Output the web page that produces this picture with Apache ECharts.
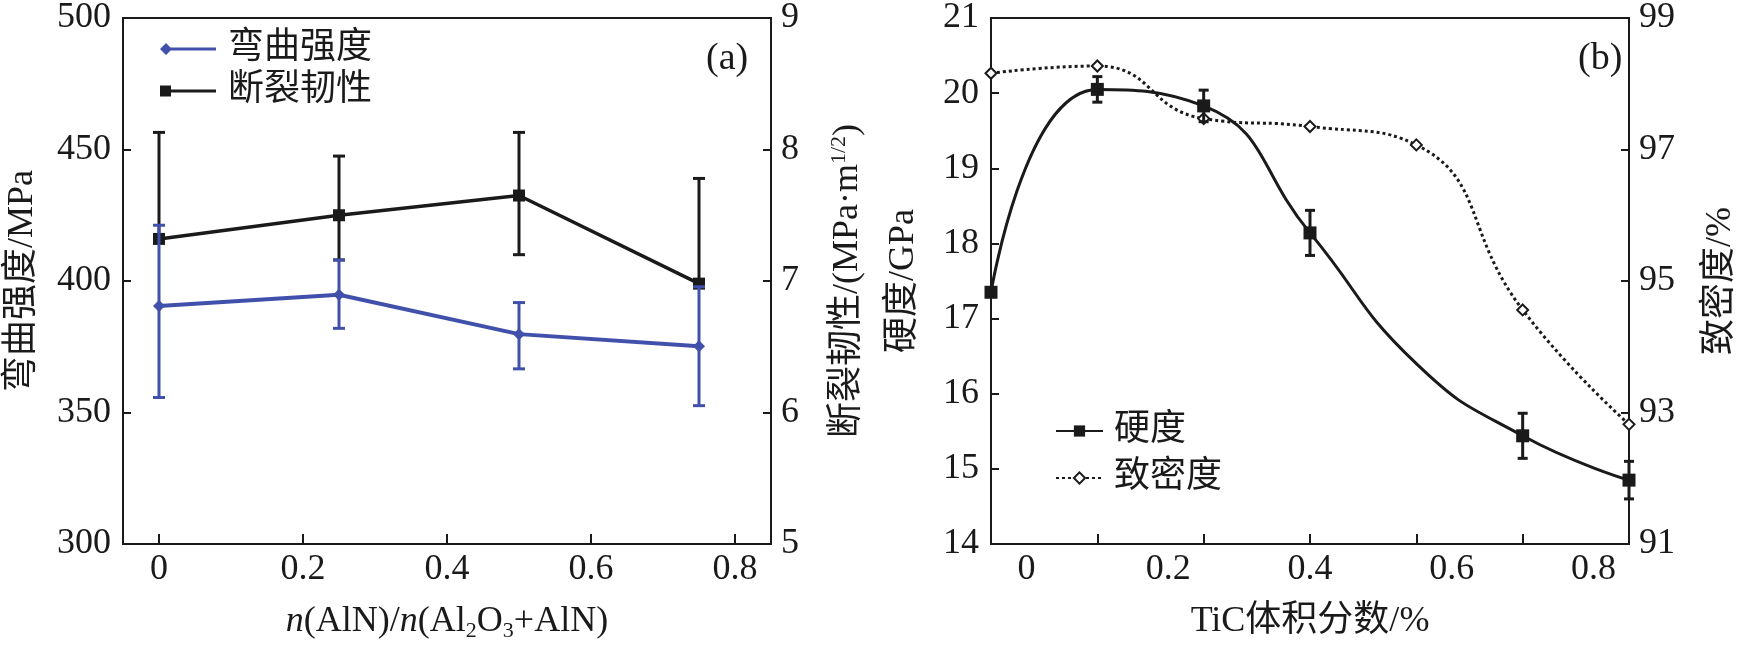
<!DOCTYPE html>
<html>
<head>
<meta charset="utf-8">
<script src="https://cdn.jsdelivr.net/npm/echarts@6/dist/echarts.min.js"></script>
<style>
html,body{margin:0;padding:0;background:#fff;}
#c{width:1742px;height:654px;}
</style>
</head>
<body>
<div id="c"></div>
<script>
// ---------- Data: panel (a) ----------
const xA = [0, 0.25, 0.5, 0.75];
const strength = [390.5, 394.8, 379.8, 375.2];
const strengthLow = [355.7, 382.0, 366.6, 352.6];
const strengthHigh = [421.2, 408.0, 391.8, 397.8];
const toughness = [7.32, 7.50, 7.65, 6.98];
const toughnessLow = [7.32, 7.16, 7.20, 6.98];   // visible lower ends (rest hidden behind blue bars)
const toughnessHigh = [8.13, 7.95, 8.13, 7.78];
const xTickLabels = [0, 0.2, 0.4, 0.6, 0.8];
const legendA = ['弯曲强度', '断裂韧性'];

// ---------- Data: panel (b) ----------
const xB = [-0.05, 0.10, 0.25, 0.40, 0.55, 0.70, 0.85];
const hardness = [17.35, 20.05, 19.83, 18.14, 16.40, 15.44, 14.85];
const hardnessMarked = [true, true, true, true, false, true, true];
const hardnessErr = [0, 0.17, 0.21, 0.30, 0, 0.30, 0.25];
const density = [98.16, 98.27, 97.47, 97.35, 97.07, 94.56, 92.82];
const xTicksB = [0.10, 0.25, 0.40, 0.55, 0.70];
const legendB = ['硬度', '致密度'];

const FONT = '"Liberation Serif", "Times New Roman", "Noto Sans CJK SC", serif';
const INK = '#1a1a1a';
const BLUE = '#4150aa';
const FS = 36;

function errRender(capHalf, color, width) {
  return function (params, api) {
    const x = api.value(0), lo = api.value(1), hi = api.value(2);
    if (hi === lo) return null;
    const a = api.coord([x, hi]), b = api.coord([x, lo]);
    const st = { stroke: color, lineWidth: width };
    return {
      type: 'group',
      children: [
        { type: 'line', shape: { x1: a[0], y1: a[1], x2: b[0], y2: b[1] }, style: st },
        { type: 'line', shape: { x1: a[0] - capHalf, y1: a[1], x2: a[0] + capHalf, y2: a[1] }, style: st },
        { type: 'line', shape: { x1: b[0] - capHalf, y1: b[1], x2: b[0] + capHalf, y2: b[1] }, style: st }
      ]
    };
  };
}

const labelStyle = { fontFamily: FONT, fontSize: FS, color: INK };
const axisLineStyle = { show: true, onZero: false, lineStyle: { color: INK, width: 2 } };
const fmt = v => String(Math.round(v * 10) / 10);

function xAxisDef(gridIndex, tickVals, nameText, rich) {
  return {
    type: 'value', gridIndex: gridIndex, min: -0.05, max: 0.85,
    axisLine: axisLineStyle,
    axisTick: { show: true, inside: true, length: 10, customValues: tickVals, lineStyle: { color: INK, width: 2 } },
    axisLabel: Object.assign({ customValues: xTickLabels, formatter: fmt, margin: 8 }, labelStyle),
    splitLine: { show: false },
    name: nameText, nameLocation: 'middle', nameGap: 58,
    nameTextStyle: Object.assign({ lineHeight: 40, rich: rich }, labelStyle)
  };
}
function yAxisDef(gridIndex, pos, min, max, interval, nameText, gap, rich) {
  return {
    type: 'value', gridIndex: gridIndex, position: pos, min: min, max: max, interval: interval,
    axisLine: axisLineStyle,
    axisTick: { show: true, inside: true, length: 8, lineStyle: { color: INK, width: 2 } },
    axisLabel: Object.assign({ margin: pos === 'left' ? 12 : 10 }, labelStyle),
    splitLine: { show: false },
    name: nameText, nameLocation: 'middle', nameRotate: 90, nameGap: gap,
    nameTextStyle: Object.assign({ lineHeight: 40, rich: rich || {} }, labelStyle)
  };
}

const subRich = {
  i: { fontFamily: FONT, fontSize: FS, fontStyle: 'italic', color: INK, lineHeight: 40 },
  s: { fontFamily: FONT, fontSize: 22, color: INK, lineHeight: 22, verticalAlign: 'bottom' },
  t: { fontFamily: FONT, fontSize: FS, color: INK, lineHeight: 40 }
};
const supRich = {
  p: { fontFamily: FONT, fontSize: 22, color: INK, lineHeight: 22, verticalAlign: 'top' },
  t: { fontFamily: FONT, fontSize: FS, color: INK, lineHeight: 40 }
};

const iconDiamondLine = 'path://M0,6 L6,0 L12,6 L6,12 Z M6,4.5 L56,4.5 L56,7.5 L6,7.5 Z';
const iconSquareLine = 'path://M0,0.5 L11,0.5 L11,11.5 L0,11.5 Z M5,4.5 L56,4.5 L56,7.5 L5,7.5 Z M0,0 L0.01,0 L0.01,12 L0,12 Z';

const option = {
  backgroundColor: '#fff',
  animation: false,
  title: [
    { text: '(a)', left: 706, top: 40, padding: 0, textStyle: { fontFamily: FONT, fontSize: 38, fontWeight: 'normal', color: INK } },
    { text: '(b)', left: 1578, top: 40, padding: 0, textStyle: { fontFamily: FONT, fontSize: 38, fontWeight: 'normal', color: INK } }
  ],
  grid: [
    { left: 123, right: 1742 - 771, top: 15, bottom: 654 - 544, show: true, borderColor: INK, borderWidth: 2 },
    { left: 991, right: 1742 - 1640, top: 15, bottom: 654 - 544, show: true, borderColor: INK, borderWidth: 2 }
  ],
  legend: [
    {
      left: 155, top: 26, orient: 'vertical', itemGap: 6, itemWidth: 56, itemHeight: 12,
      data: [
        { name: legendA[0], icon: iconDiamondLine },
        { name: legendA[1], icon: iconSquareLine }
      ],
      textStyle: { fontFamily: FONT, fontSize: FS, color: INK, lineHeight: 36, padding: [0, 0, 0, 7] }
    },
    {
      left: 1050, top: 408, orient: 'vertical', itemGap: 11, itemWidth: 47, itemHeight: 14,
      data: legendB,
      textStyle: { fontFamily: FONT, fontSize: FS, color: INK, lineHeight: 36, padding: [0, 0, 0, 6] }
    }
  ],
  xAxis: [
    xAxisDef(0, xTickLabels, '{i|n}{t|(AlN)/}{i|n}{t|(Al}{s|2}{t|O}{s|3}{t|+AlN)}', subRich),
    xAxisDef(1, xTicksB, 'TiC体积分数/%', {})
  ],
  yAxis: [
    yAxisDef(0, 'left', 300, 500, 50, '弯曲强度/MPa', 80),
    yAxisDef(0, 'right', 5, 9, 1, '{t|断裂韧性/(MPa·m}{p|1/2}{t|)}', 57, supRich),
    yAxisDef(1, 'left', 14, 21, 1, '硬度/GPa', 67),
    yAxisDef(1, 'right', 91, 99, 2, '致密度/%', 72)
  ],
  series: [
    {
      type: 'custom', xAxisIndex: 0, yAxisIndex: 1, z: 2, silent: true,
      renderItem: errRender(6, INK, 3),
      encode: { x: 0, y: [1, 2] },
      data: xA.map((x, i) => [x, toughnessLow[i], toughnessHigh[i]])
    },
    {
      name: legendA[1], type: 'line', xAxisIndex: 0, yAxisIndex: 1, z: 3, clip: false,
      symbol: 'rect', symbolSize: 12,
      itemStyle: { color: INK }, lineStyle: { color: INK, width: 3.5 },
      data: xA.map((x, i) => [x, toughness[i]])
    },
    {
      type: 'custom', xAxisIndex: 0, yAxisIndex: 0, z: 4, silent: true,
      renderItem: errRender(6, BLUE, 3),
      encode: { x: 0, y: [1, 2] },
      data: xA.map((x, i) => [x, strengthLow[i], strengthHigh[i]])
    },
    {
      name: legendA[0], type: 'line', xAxisIndex: 0, yAxisIndex: 0, z: 5, clip: false,
      symbol: 'diamond', symbolSize: 12,
      itemStyle: { color: BLUE }, lineStyle: { color: BLUE, width: 4 },
      data: xA.map((x, i) => [x, strength[i]])
    },
    {
      name: legendB[0], type: 'line', xAxisIndex: 1, yAxisIndex: 2, z: 5, clip: false,
      smooth: 0.5, symbol: 'rect', symbolSize: 13,
      itemStyle: { color: INK }, lineStyle: { color: INK, width: 3 },
      data: xB.map((x, i) => hardnessMarked[i] ? [x, hardness[i]] : { value: [x, hardness[i]], symbol: 'none' })
    },
    {
      type: 'custom', xAxisIndex: 1, yAxisIndex: 2, z: 6, silent: true,
      renderItem: errRender(5, INK, 3),
      encode: { x: 0, y: [1, 2] },
      data: xB.map((x, i) => [x, hardness[i] - hardnessErr[i], hardness[i] + hardnessErr[i]])
    },
    {
      name: legendB[1], type: 'line', xAxisIndex: 1, yAxisIndex: 3, z: 4, clip: false,
      smooth: 0.5, symbol: 'emptyDiamond', symbolSize: 11,
      itemStyle: { color: INK, borderWidth: 1.5 }, lineStyle: { color: INK, width: 3, type: [3, 3] },
      data: xB.map((x, i) => [x, density[i]])
    }
  ]
};

const chart = echarts.init(document.getElementById('c'), null, { renderer: 'canvas' });
chart.setOption(option);
</script>
</body>
</html>
